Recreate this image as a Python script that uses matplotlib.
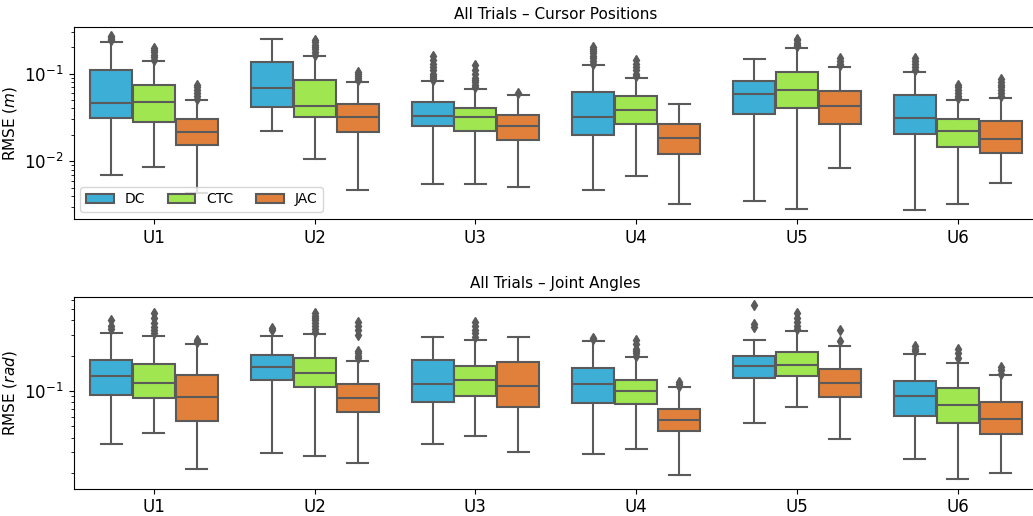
import numpy as np
import matplotlib
matplotlib.use("Agg")
import matplotlib.pyplot as plt
from matplotlib.patches import Patch
from matplotlib.ticker import NullFormatter

# Donnees (q1, mediane, q3, moustache basse, moustache haute)
users = ["U1", "U2", "U3", "U4", "U5", "U6"]
controllers = ["DC", "CTC", "JAC"]
colors = ["#3daed6", "#a0e650", "#e0803a"]

# Cursor positions (m)
pos_q1 = {"DC": [.031, .0417, .0255, .0198, .0349, .0203],
          "CTC": [.0283, .0323, .0223, .0267, .0409, .0147],
          "JAC": [.0152, .0214, .0174, .012, .0267, .01245]}
pos_med = {"DC": [.046, .068, .0332, .032, .0586, .0312],
           "CTC": [.0479, .0431, .0318, .0388, .0656, .0222],
           "JAC": [.0218, .0318, .0255, .0186, .0428, .0178]}
pos_q3 = {"DC": [.110, .136, .0479, .0624, .0832, .0567],
          "CTC": [.0736, .084, .0406, .0561, .1045, .0306],
          "JAC": [.0304, .0455, .0338, .0267, .064, .0289]}
pos_lo = {"DC": [.0069, .0223, .00546, .00474, .00352, .00278],
          "CTC": [.0085, .0106, .0055, .00686, .00285, .00326],
          "JAC": [.0043, .0047, .0051, .00326, .00845, .0057]}
pos_hi = {"DC": [.23, .247, .0818, .1256, .147, .1045],
          "CTC": [.1406, .159, .0669, .090, .196, .0505],
          "JAC": [.050, .081, .0572, .0448, .118, .0532]}
pos_fl = {"DC": [[.24, .25, .26, .27], [],
                 [.085, .09, .095, .1, .11, .12, .13, .145, .16],
                 [.13, .14, .15, .16, .17, .18, .19, .2], [],
                 [.11, .12, .13, .14, .15]],
          "CTC": [[.145, .155, .165, .175, .185, .195],
                  [.165, .175, .19, .2, .21, .23, .245],
                  [.07, .075, .08, .085, .09, .1, .11, .125],
                  [.095, .1, .11, .12, .13, .145],
                  [.205, .215, .225, .24, .25],
                  [.053, .056, .06, .065, .07, .075]],
          "JAC": [[.052, .055, .06, .065, .07, .075],
                  [.085, .09, .095, .1, .105], [.06], [],
                  [.125, .13, .14, .15],
                  [.056, .06, .065, .07, .075, .08, .088]]}

# Joint angles (rad)
ang_q1 = {"DC": [.093, .124, .081, .0795, .129, .0616],
          "CTC": [.0877, .109, .0912, .0775, .135, .0537],
          "JAC": [.0558, .0667, .0735, .0459, .0889, .0433]}
ang_med = {"DC": [.135, .160, .1148, .114, .1625, .0906],
           "CTC": [.117, .1415, .124, .100, .1676, .0764],
           "JAC": [.0889, .0866, .111, .0569, .118, .058]}
ang_q3 = {"DC": [.1836, .203, .1836, .156, .198, .121],
          "CTC": [.170, .191, .1645, .124, .214, .1054],
          "JAC": [.1367, .114, .176, .0707, .154, .0805]}
ang_lo = {"DC": [.0356, .0298, .0351, .0292, .0537, .0263],
          "CTC": [.0439, .0277, .0416, .032, .0735, .0177],
          "JAC": [.0215, .0245, .0304, .0194, .039, .0199]}
ang_hi = {"DC": [.314, .294, .288, .268, .270, .2055],
          "CTC": [.292, .306, .272, .194, .323, .172],
          "JAC": [.252, .180, .288, .108, .243, .136]}
ang_fl = {"DC": [[.34, .36, .40], [.33, .345], [], [.28, .285],
                 [.35, .37, .54], [.22, .23, .24]],
          "CTC": [[.31, .33, .35, .38, .42, .46],
                  [.32, .34, .36, .38, .40, .42, .44, .46],
                  [.29, .31, .33, .36, .39],
                  [.2, .21, .22, .23, .25, .27],
                  [.34, .36, .39, .42, .46], [.19, .21, .23]],
          "JAC": [[.26, .27], [.19, .2, .21, .22, .30, .33, .36, .39], [],
                  [.11, .115, .12], [.268, .33], [.14, .15, .159]]}

gray = "#5a5a5a"


def draw_panel(ax, q1, med, q3, lo, hi, fl, title, ylabel, ylim):
    w = 0.8 / len(controllers)
    for j, c in enumerate(controllers):
        stats = []
        for i in range(len(users)):
            stats.append({"q1": q1[c][i], "med": med[c][i], "q3": q3[c][i],
                          "whislo": lo[c][i], "whishi": hi[c][i],
                          "fliers": fl[c][i]})
        pos = np.arange(len(users)) + (j - 1) * w
        ax.bxp(stats, positions=pos, widths=w * 0.98, patch_artist=True,
               manage_ticks=False,
               boxprops=dict(facecolor=colors[j], edgecolor=gray, linewidth=1.5),
               medianprops=dict(color=gray, linewidth=1.5),
               whiskerprops=dict(color=gray, linewidth=1.5),
               capprops=dict(color=gray, linewidth=1.5),
               flierprops=dict(marker="d", markerfacecolor=gray,
                               markeredgecolor=gray, markersize=5))
    ax.set_yscale("log")
    ax.set_ylim(*ylim)
    ax.set_xlim(-0.5, len(users) - 0.5)
    ax.set_xticks(np.arange(len(users)))
    ax.set_xticklabels(users, fontsize=12)
    ax.tick_params(axis="y", labelsize=12)
    ax.yaxis.set_minor_formatter(NullFormatter())
    ax.set_title(title, fontsize=11)
    ax.set_ylabel(ylabel, fontsize=11)


fig = plt.figure(figsize=(10.33, 5.16), dpi=100)
ax1 = fig.add_axes([0.0712, 0.5756, 0.9337, 0.3721])
ax2 = fig.add_axes([0.0712, 0.0529, 0.9337, 0.3721])

draw_panel(ax1, pos_q1, pos_med, pos_q3, pos_lo, pos_hi, pos_fl,
           "All Trials – Cursor Positions", "RMSE ($m$)", (0.00219, 0.341))
draw_panel(ax2, ang_q1, ang_med, ang_q3, ang_lo, ang_hi, ang_fl,
           "All Trials – Joint Angles", "RMSE ($rad$)", (0.0147, 0.637))

handles = [Patch(facecolor=colors[j], edgecolor=gray, linewidth=1.5, label=c)
           for j, c in enumerate(controllers)]
ax1.legend(handles=handles, loc="lower left", ncol=3, fontsize=10,
           columnspacing=1.6)

fig.savefig("out.png", dpi=100)
